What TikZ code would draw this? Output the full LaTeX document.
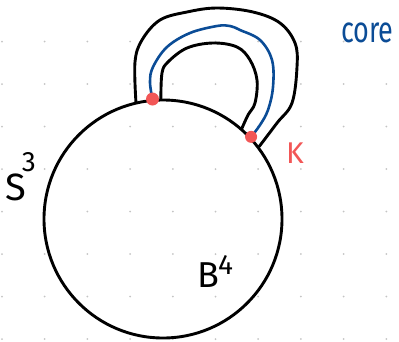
\documentclass[tikz,border=0pt]{standalone}
\usepackage{fontspec}
\setmainfont{Fira Sans}
\usetikzlibrary{calc}
\definecolor{corecol}{HTML}{0B4C96}
\definecolor{knotred}{HTML}{F25656}
\definecolor{dotgray}{HTML}{C4C4C4}
\tikzset{
  sketch/.style={
    line width=2.9pt,
    line cap=round,
    line join=round
  },
  handle/.style={
    sketch,
    draw=black
  },
  corecurve/.style={
    line width=2.6pt,
    draw=corecol,
    line cap=round
  },
  footpoint/.style={
    fill=knotred,
    draw=none
  },
  hand/.style={
    inner sep=0pt,
    anchor=base west
  }
}

\begin{document}
\begin{tikzpicture}[x=1pt,y=-1pt]
        \useasboundingbox (0,0) rectangle (399,341);
        % dotted paper
        \foreach \i in {0,...,9}
          \foreach \j in {1,...,8}
            \fill[dotgray] ({2+42.7*\i},{-1+42.5*\j}) circle (1);
        % the ball
        \node[circle, draw, line width=2.9pt, minimum size=238pt, inner sep=0pt] (ball) at (163,219) {};
        \coordinate (outerL) at (ball.103);
        \coordinate (innerL) at (ball.91);
        \coordinate (footL) at (ball.95);
        \coordinate (innerR) at (ball.49);
        \coordinate (footR) at (ball.43);
        \coordinate (outerR) at (ball.37);
        % the handle
        \draw[handle] plot[smooth, tension=0.6] coordinates {(outerL) (135,62) (142,40) (160,20) (187,12) (217,8) (253,12) (280,23) (295,43) (297,67) (292,103) (277,123) (outerR)};
        \draw[handle] plot[smooth, tension=0.6] coordinates {(innerL) (162,73) (168,62) (187,48) (213,43) (237,47) (250,60) (257,80) (255,103) (248,115) (innerR)};
        \draw[corecurve] plot[smooth, tension=0.6] coordinates {(footL) (150,82) (153,67) (167,47) (190,33) (217,26) (230,26) (240,30) (260,40) (272,60) (273,87) (268,110) (260,125) (footR)};
        \fill[footpoint] (footL) circle (6.5);
        \fill[footpoint] (footR) circle (6);
        % labels
        \node[hand, text=corecol, font=\fontsize{27}{27}\selectfont] (corelabel) at (341,42) {\scalebox{1}[1.35]{core}};
        \node[hand, text=knotred, font=\fontsize{30}{30}\selectfont] (knot) at (286,163) {K};
        \node[hand, font=\fontsize{38}{38}\selectfont] (sphere) at (5,200) {S\kern-4pt\raisebox{29pt}{\fontsize{28}{28}\selectfont 3}};
        \node[hand, font=\fontsize{36}{36}\selectfont] (bfour) at (197,287) {B\kern-1pt\raisebox{13pt}{\fontsize{28}{28}\selectfont 4}};
    \end{tikzpicture}
\end{document}
